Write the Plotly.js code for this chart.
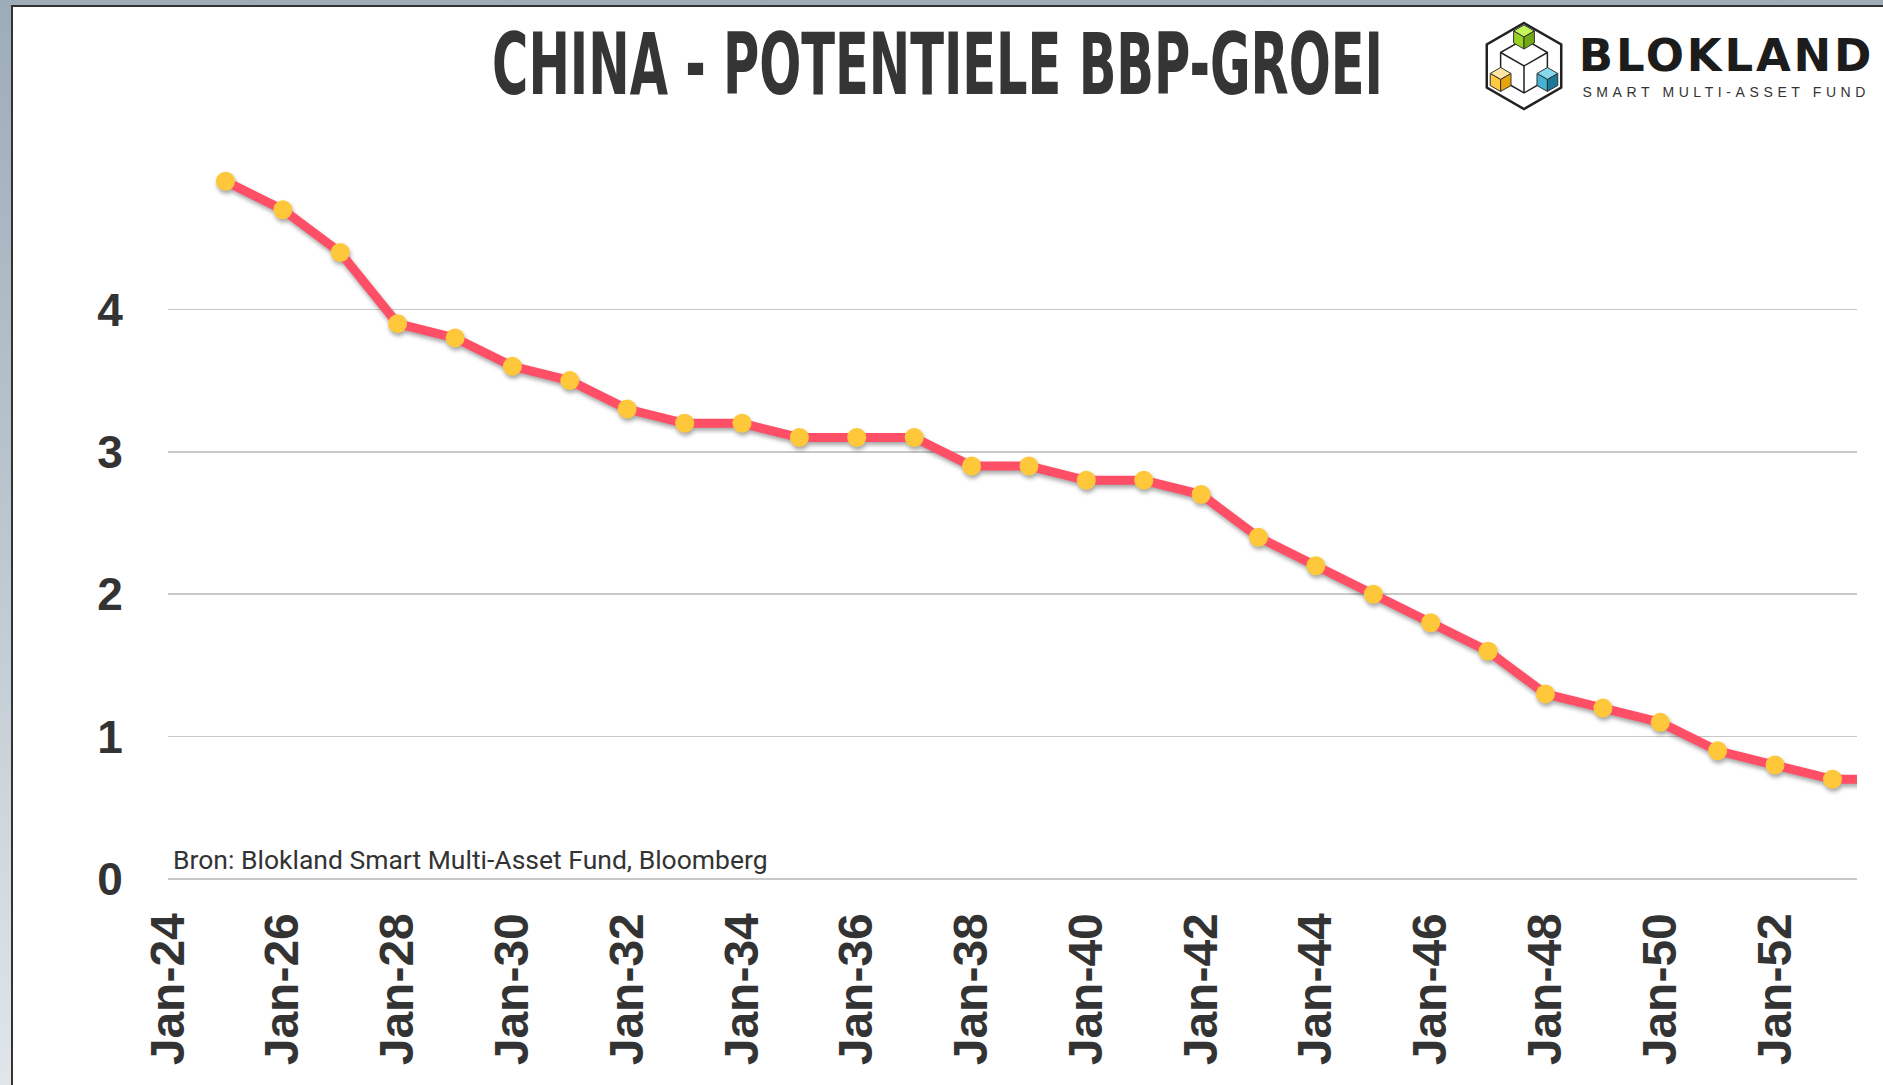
<!DOCTYPE html>
<html>
<head>
<meta charset="utf-8">
<script src="https://cdn.plot.ly/plotly-3.0.1.min.js"></script>
<style>
  html, body { margin: 0; padding: 0; width: 1883px; height: 1085px; overflow: hidden;
    background: linear-gradient(to bottom, #9eacb8 0%, #bcc7d0 50%, #e0e6ea 100%); }
  #frame { position: absolute; left: 11px; top: 5px; width: 1872px; height: 1080px;
    border-left: 2px solid #333; border-top: 2px solid #333; background: #fff; box-sizing: border-box; }
  #chart { position: absolute; left: 13px; top: 7px; width: 1870px; height: 1078px; }
  #chart .scatterlayer { filter: drop-shadow(1px 3px 2px rgba(0,0,0,0.35)); }
</style>
</head>
<body>
<div id="frame"></div>
<div id="chart"></div>
<script>
// ---- data ----
const dates = ['2025-01-01','2026-01-01','2027-01-01','2028-01-01','2029-01-01','2030-01-01',
  '2031-01-01','2032-01-01','2033-01-01','2034-01-01','2035-01-01','2036-01-01','2037-01-01',
  '2038-01-01','2039-01-01','2040-01-01','2041-01-01','2042-01-01','2043-01-01','2044-01-01',
  '2045-01-01','2046-01-01','2047-01-01','2048-01-01','2049-01-01','2050-01-01','2051-01-01',
  '2052-01-01','2053-01-01','2054-01-01'];
const growth = [4.9, 4.7, 4.4, 3.9, 3.8, 3.6, 3.5, 3.3, 3.2, 3.2, 3.1, 3.1, 3.1,
  2.9, 2.9, 2.8, 2.8, 2.7, 2.4, 2.2, 2.0, 1.8, 1.6, 1.3, 1.2, 1.1, 0.9, 0.8, 0.7, 0.7];
const yTicks = [0, 1, 2, 3, 4];
const titleText = 'CHINA - POTENTIELE BBP-GROEI';
const sourceText = 'Bron: Blokland Smart Multi-Asset Fund, Bloomberg';

// ---- layout geometry (page pixels -> paper coords) ----
const OFFX = 13, OFFY = 7, W = 1870, H = 1078;
const M = {l: 155, r: 26, t: 160, b: 206};
const PW = W - M.l - M.r, PH = H - M.t - M.b;
const px = x => ((x - OFFX) - M.l) / PW;
const py = y => (H - M.b - (y - OFFY)) / PH;
function poly(pts) {
  return 'M ' + pts.map(p => px(p[0]).toFixed(5) + ',' + py(p[1]).toFixed(5)).join(' L ') + ' Z';
}
function line(pts) {
  return 'M ' + pts.map(p => px(p[0]).toFixed(5) + ',' + py(p[1]).toFixed(5)).join(' L ');
}

const shapes = [];
// logo hexagon
const hx = 1524, hy = 66, R = 43;
const hex = [];
for (let i = 0; i < 6; i++) {
  const a = (-90 + 60 * i) * Math.PI / 180;
  hex.push([hx + R * Math.cos(a), hy + R * Math.sin(a)]);
}
shapes.push({type: 'path', xref: 'paper', yref: 'paper', path: poly(hex), line: {color: '#222', width: 2.5}});
// inner wireframe cube
const r2 = 27, k = 0.866;
const T = [hx, hy - r2], UR = [hx + k * r2, hy - r2 / 2], LR = [hx + k * r2, hy + r2 / 2],
  B = [hx, hy + r2], LL = [hx - k * r2, hy + r2 / 2], UL = [hx - k * r2, hy - r2 / 2], C = [hx, hy];
shapes.push({type: 'path', xref: 'paper', yref: 'paper', path: poly([T, UR, LR, B, LL, UL]), line: {color: '#222', width: 1.5}});
shapes.push({type: 'path', xref: 'paper', yref: 'paper', path: line([UL, C, UR]), line: {color: '#222', width: 1.5}});
shapes.push({type: 'path', xref: 'paper', yref: 'paper', path: line([C, B]), line: {color: '#222', width: 1.5}});
// small coloured cubes
function cube(cx, cy, r, cTop, cLeft, cRight) {
  const t = [cx, cy - r], ur = [cx + k * r, cy - r / 2], lr = [cx + k * r, cy + r / 2],
    b = [cx, cy + r], ll = [cx - k * r, cy + r / 2], ul = [cx - k * r, cy - r / 2], c = [cx, cy];
  const ln = {color: '#333', width: 1};
  shapes.push({type: 'path', xref: 'paper', yref: 'paper', path: poly([t, ur, c, ul]), fillcolor: cTop, line: ln});
  shapes.push({type: 'path', xref: 'paper', yref: 'paper', path: poly([ul, c, b, ll]), fillcolor: cLeft, line: ln});
  shapes.push({type: 'path', xref: 'paper', yref: 'paper', path: poly([c, ur, lr, b]), fillcolor: cRight, line: ln});
}
cube(hx, 37, 12, '#c4f55a', '#96d320', '#6fa812');
cube(hx - k * r2, hy + r2 / 2, 12, '#ffe6a6', '#ffc940', '#e6a50a');
cube(hx + k * r2, hy + r2 / 2, 12, '#86d8ee', '#44b3d6', '#1d7896');

const annotations = [
  {xref: 'paper', yref: 'paper', x: px(1726), y: py(56), xanchor: 'center', yanchor: 'middle',
   text: 'BLOKLAND', showarrow: false,
   font: {family: 'DejaVu Sans, Liberation Sans, sans-serif', size: 45, weight: 700, color: '#1c1c1c'}},
  {xref: 'paper', yref: 'paper', x: px(1726), y: py(92.5), xanchor: 'center', yanchor: 'middle',
   text: 'SMART MULTI-ASSET FUND', showarrow: false,
   font: {family: 'Liberation Sans, Arial, sans-serif', size: 14, color: '#333'}},
  {xref: 'paper', yref: 'paper', x: px(171), y: py(859), xanchor: 'left', yanchor: 'middle',
   text: sourceText, showarrow: false,
   font: {family: 'Roboto, Liberation Sans, sans-serif', size: 26.5, color: '#333'}}
];

const trace = {
  type: 'scatter', mode: 'lines+markers', x: dates, y: growth,
  line: {color: '#ff4f67', width: 9},
  marker: {color: '#ffc83a', size: 19},
  hoverinfo: 'skip'
};

const layout = {
  width: W, height: H,
  margin: M,
  paper_bgcolor: '#fff', plot_bgcolor: '#fff',
  showlegend: false,
  title: {text: titleText, xref: 'container', yref: 'container', x: 0.4944, xanchor: 'center',
          y: 0.9467, yanchor: 'middle',
          font: {family: 'DejaVu Sans, Liberation Sans, sans-serif',
                 size: 85, weight: 700, color: '#353535'}},
  xaxis: {type: 'date', range: ['2024-01-01', '2053-06-06'], tick0: '2024-01-01', dtick: 'M24',
          tickformat: '%b-%y', tickangle: -90, showgrid: false, zeroline: false, showline: false,
          ticks: 'outside', ticklen: 14, tickcolor: 'rgba(0,0,0,0)',
          tickfont: {family: 'Liberation Sans, Arial, sans-serif', size: 48, weight: 700, color: '#333'}},
  yaxis: {range: [0, 5], tickvals: yTicks, ticktext: yTicks.map(String), showgrid: true,
          gridcolor: '#c8c8c8', gridwidth: 1.5, zeroline: true, zerolinecolor: '#c8c8c8', zerolinewidth: 1.5,
          showline: false, ticks: 'outside', ticklen: 35, tickcolor: 'rgba(0,0,0,0)',
          tickfont: {family: 'Liberation Sans, Arial, sans-serif', size: 46, weight: 700, color: '#333'}},
  shapes: shapes,
  annotations: annotations
};

Plotly.newPlot('chart', [trace], layout, {staticPlot: true, displayModeBar: false}).then(gd => {
  const fix = () => {
    document.querySelectorAll('.annotation-text').forEach(t => {
      if (t.textContent.indexOf('SMART') === 0) t.style.letterSpacing = '4.6px';
      if (t.textContent === 'BLOKLAND') t.style.letterSpacing = '2.8px';
    });
    const tt = document.querySelector('.gtitle');
    if (tt) {
      tt.removeAttribute('transform');
      const bb = tt.getBBox();
      const cx = bb.x + bb.width / 2;
      const s = 891 / bb.width;
      tt.setAttribute('transform', `translate(${cx},0) scale(${s},1) translate(${-cx},0)`);
    }
  };
  fix();
  gd.on('plotly_afterplot', fix);
});
</script>
</body>
</html>
